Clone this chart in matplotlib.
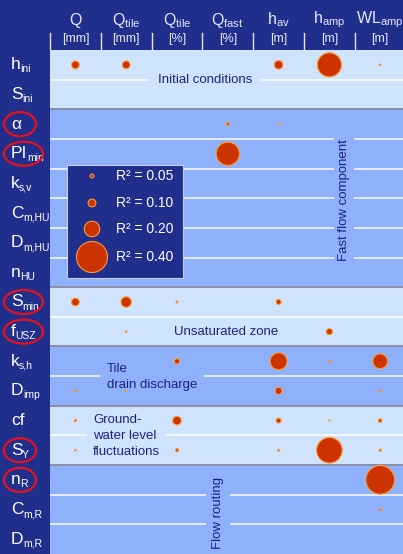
import matplotlib
matplotlib.use("Agg")
import matplotlib.pyplot as plt
from matplotlib.patches import Ellipse
import numpy as np

plt.rcParams['font.family'] = ['Liberation Sans', 'DejaVu Sans']
plt.rcParams['mathtext.fontset'] = 'custom'
plt.rcParams['mathtext.rm'] = 'Liberation Sans'
plt.rcParams['mathtext.it'] = 'Liberation Sans'

# ---------------- data ----------------
row_base = ['h', 'S', 'α', 'PI', 'k', 'C', 'D', 'n', 'S', 'f', 'k', 'D', 'cf',
            'S', 'n', 'C', 'D']
row_sub = ['ini', 'ini', '', 'min', 's,v', 'm,HU', 'm,HU', 'HU', 'min', 'USZ',
           's,h', 'imp', '', 'Y', 'R', 'm,R', 'm,R']
circled_rows = [2, 3, 8, 9, 13, 14]

col_labels = ['Q', r'$\mathregular{Q_{tile}}$', r'$\mathregular{Q_{tile}}$',
              r'$\mathregular{Q_{fast}}$', r'$\mathregular{h_{av}}$',
              r'$\mathregular{h_{amp}}$', r'$\mathregular{WL_{amp}}$']
col_units = ['[mm]', '[mm]', '[%]', '[%]', '[m]', '[m]', '[m]']

# R² values per output column (one value per parameter row)
r2_Q        = [0.10, 0, 0, 0, 0, 0, 0, 0, 0.10, 0, 0, 0.025, 0.03, 0.02, 0, 0, 0]
r2_Qtile    = [0.10, 0, 0, 0, 0, 0, 0, 0, 0.135, 0.02, 0, 0.02, 0, 0, 0, 0, 0]
r2_Qtilepct = [0, 0, 0, 0, 0, 0, 0, 0, 0.025, 0, 0.07, 0, 0.11, 0.04, 0, 0, 0]
r2_Qfast    = [0, 0, 0.04, 0.30, 0, 0, 0, 0, 0, 0, 0, 0, 0, 0, 0, 0, 0]
r2_hav      = [0.11, 0, 0.02, 0, 0, 0, 0, 0, 0.065, 0, 0.22, 0.09, 0.065, 0.025, 0, 0, 0]
r2_hamp     = [0.31, 0, 0, 0, 0, 0, 0, 0, 0, 0.08, 0.025, 0, 0.015, 0.33, 0, 0, 0]
r2_WLamp    = [0.02, 0, 0, 0, 0, 0, 0, 0, 0, 0, 0.19, 0.025, 0.045, 0.03, 0.37, 0.03, 0]
series = [r2_Q, r2_Qtile, r2_Qtilepct, r2_Qfast, r2_hav, r2_hamp, r2_WLamp]

legend_values = [0.05, 0.10, 0.20, 0.40]

groups = ['Initial conditions', 'Fast flow component', 'Unsaturated zone',
          'Tile\ndrain discharge', 'Ground-\nwater level\nfluctuations', 'Flow routing']
group_start = [0, 2, 8, 10, 12, 14]
group_end = [2, 8, 10, 12, 14, 17]

# ---------------- style ----------------
NAVY = '#202e8c'
LIGHT = '#d0e3fc'
MED = '#8fb0fa'
TXT = '#1a237e'
FILL = '#cc3300'
EDGE = '#ff9a33'

W, H = 403, 554
fig = plt.figure(figsize=(W / 100, H / 100), dpi=100, facecolor=NAVY)

x0, y0 = 50, 50
ax = fig.add_axes([x0 / W, 0, (W - x0) / W, (H - y0) / H])
ncols, nrows = len(col_labels), len(row_base)
colw = 50.8
roww = (H - y0) / nrows
ax.set_xlim(-0.5, -0.5 + (W - x0) / colw)
ax.set_ylim(nrows - 0.5, -0.5)
ax.axis('off')


def size(r2):
    d_px = 77.5 * np.asarray(r2, dtype=float)
    return (d_px * 0.72) ** 2


def ypx(p):  # pixel y (from top) to data y
    return (p - y0) / roww - 0.5


def xpx(p):
    return (p - x0) / colw - 0.5


band_colors = [LIGHT, MED, LIGHT, MED, LIGHT, MED]
for gs, ge, bc in zip(group_start, group_end, band_colors):
    ax.axhspan(gs - 0.5, ge - 0.5, color=bc, zorder=0, lw=0)
    for r in range(gs + 1, ge):
        ax.axhline(r - 0.5, color='white', lw=1.1, zorder=1, alpha=0.95)
    if gs > 0:
        ax.axhline(gs - 0.5, color='#8a8ea8', lw=1.4, zorder=1.5)

# group labels
lab_kw = dict(color=TXT, fontsize=9.5, zorder=2)
ax.text(xpx(205), ypx(80), groups[0], ha='center', va='center',
        bbox=dict(fc=LIGHT, ec='none', pad=6), **lab_kw)
ax.text(xpx(344), ypx(200), groups[1], ha='center', va='center', rotation=90,
        bbox=dict(fc=MED, ec='none', pad=3), **lab_kw)
ax.text(xpx(226), 9.0, groups[2], ha='center', va='center', **lab_kw)
ax.text(xpx(107), ypx(377), groups[3], ha='left', va='center', linespacing=1.5,
        bbox=dict(fc=MED, ec='none', pad=5), **lab_kw)
ax.text(xpx(93), ypx(436), groups[4], ha='left', va='center', linespacing=1.4,
        bbox=dict(fc=LIGHT, ec='none', pad=4), **lab_kw)
ax.text(xpx(218), ypx(513), groups[5], ha='center', va='center', rotation=90,
        bbox=dict(fc=MED, ec='none', pad=4), **lab_kw)

# bubbles
rows = np.arange(nrows)
for ci, vals in enumerate(series):
    vals = np.asarray(vals, dtype=float)
    m = vals > 0
    ax.scatter(np.full(m.sum(), ci), rows[m], s=size(vals[m]), c=FILL,
               edgecolors=EDGE, linewidths=0.8, zorder=5)

# header
for ci in range(ncols):
    ax.text(ci, ypx(20), col_labels[ci], ha='center', va='center',
            color='#e4e8fa', fontsize=11.5, clip_on=False)
    ax.text(ci, ypx(39), col_units[ci], ha='center', va='center',
            color='#e4e8fa', fontsize=9, clip_on=False)
    ax.plot([ci - 0.5, ci - 0.5], [ypx(33), ypx(49)], color='#e4e8fa',
            lw=1.0, clip_on=False)

# row labels: main symbol + small subscript
for ri, (b, sb) in enumerate(zip(row_base, row_sub)):
    t = ax.text(xpx(11), ri + 4.5 / roww, b, ha='left', va='baseline',
                color='white', fontsize=12.5, clip_on=False)
    if sb:
        ax.annotate(sb, xy=(1, 0), xycoords=t, xytext=(-0.4, 0.0),
                    textcoords='offset points', ha='left', va='baseline',
                    color='white', fontsize=7.5, annotation_clip=False)
for ri in circled_rows:
    wide = ri in (3, 8, 9)
    w = 39 if wide else 32
    cx = 23.5 if wide else 20
    e = Ellipse((xpx(cx), ri), w / colw, 24 / roww, fill=False,
                ec='#e8101a', lw=1.6, clip_on=False, zorder=6)
    ax.add_patch(e)

# legend box
lx0, ly0, lx1, ly1 = 67, 165, 183, 278
lax = fig.add_axes([lx0 / W, 1 - ly1 / H, (lx1 - lx0) / W, (ly1 - ly0) / H])
lax.set_facecolor(NAVY)
for s in lax.spines.values():
    s.set_color('#c8cce0')
    s.set_linewidth(0.8)
lax.set_xticks([])
lax.set_yticks([])
lax.set_xlim(lx0, lx1)
lax.set_ylim(ly1, ly0)
ly = [176, 203, 229, 257]
lax.scatter([92] * 4, ly, s=size(legend_values), c=FILL, edgecolors=EDGE,
            linewidths=0.8, zorder=3)
for yy, v in zip(ly, legend_values):
    lax.text(116, yy, f'R² = {v:.2f}', ha='left', va='center', color='white',
             fontsize=10)

fig.savefig('out.png', dpi=100, facecolor=NAVY)
